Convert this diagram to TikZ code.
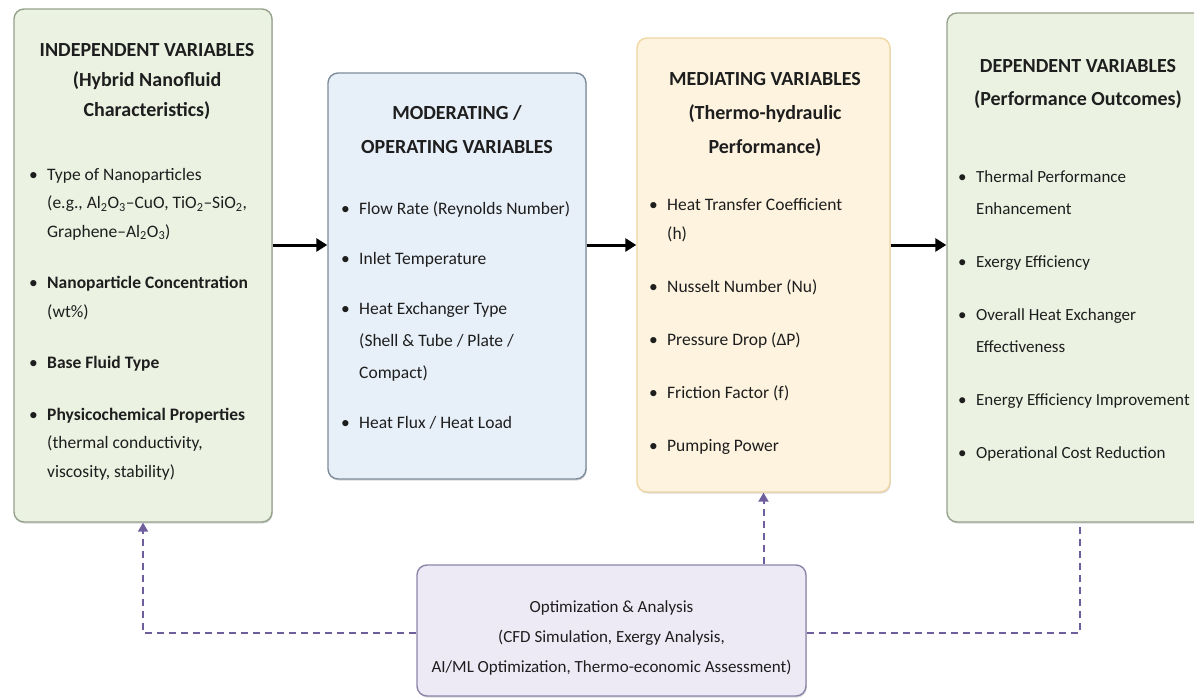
\documentclass[tikz,border=0pt]{standalone}
\usepackage{fontspec}
\setmainfont{Carlito}
\usetikzlibrary{arrows.meta,shadows}
\definecolor{gfill}{HTML}{EBF2E2}
\definecolor{gline}{HTML}{95A28C}
\definecolor{bfill}{HTML}{E7EFF8}
\definecolor{bline}{HTML}{7E8C9C}
\definecolor{yfill}{HTML}{FDF3DF}
\definecolor{yline}{HTML}{F0D7A4}
\definecolor{pfill}{HTML}{EDEAF6}
\definecolor{pline}{HTML}{8C85A8}
\definecolor{dpur}{HTML}{6E5E9E}
\definecolor{txt}{HTML}{1E1E1E}
\newcommand{\bitem}[1]{\par\noindent\hangindent=18pt\hangafter=1\makebox[18pt][l]{\textbullet}#1\par}
\newenvironment{blist}[3]{\begin{minipage}[t]{300pt}\fontsize{#3}{#1}\selectfont\setlength{\parskip}{#2}\setlength{\parindent}{0pt}}{\end{minipage}}
\tikzset{
  box/.style={draw, rounded corners=10pt, line width=1.4pt, inner sep=0pt,
    drop shadow={shadow xshift=0.8pt, shadow yshift=-1.5pt, opacity=0.3}},
  titletext/.style={align=center, inner sep=0pt, text=txt, anchor=north},
  listtext/.style={inner sep=0pt, text=txt, anchor=north west},
  flow/.style={line width=3pt, -{Triangle[length=11pt,width=13pt]}},
  fb/.style={draw=dpur, line width=2pt, dash pattern=on 7pt off 5pt},
  fbtip/.style={-{Triangle[length=9pt,width=10pt]}}
}
\begin{document}
\begin{tikzpicture}[x=1pt,y=-1pt]
\useasboundingbox (0,0) rectangle (1194,698);
\clip (0,0) rectangle (1194,698);
\fill[white] (0,0) rectangle (1194,698);

% boxes
\node[box, fill=gfill, draw=gline, minimum width=258pt, minimum height=513pt] (b1) at (143,265.5) {};
\node[box, fill=bfill, draw=bline, minimum width=258pt, minimum height=406pt] (b2) at (457,276) {};
\node[box, fill=yfill, draw=yline, minimum width=253pt, minimum height=454pt] (b3) at (763.5,265) {};
\node[box, fill=gfill, draw=gline, minimum width=266pt, minimum height=509pt] (b4) at (1080,267.5) {};
\node[box, fill=pfill, draw=pline, minimum width=389pt, minimum height=131pt] (bot) at (611.5,630.5) {};

% titles
\node[titletext, font=\fontsize{20}{30}\selectfont\bfseries] (t1) at (147,43)
  {INDEPENDENT VARIABLES\\(Hybrid Nanofluid\\Characteristics)};
\node[titletext, font=\fontsize{20}{34}\selectfont\bfseries] (t2) at (457,105)
  {MODERATING /\\OPERATING VARIABLES};
\node[titletext, font=\fontsize{20}{34}\selectfont\bfseries] (t3) at (765,72)
  {MEDIATING VARIABLES\\(Thermo-hydraulic\\Performance)};
\node[titletext, font=\fontsize{20}{33}\selectfont\bfseries] (t4) at (1078,59)
  {DEPENDENT VARIABLES\\(Performance Outcomes)};

% lists
\node[listtext] (l1) at (29,168) {\begin{blist}{28.5pt}{23pt}{17.5}%
  \bitem{Type of Nanoparticles\\(e.g., Al\textsubscript{2}O\textsubscript{3}--CuO, TiO\textsubscript{2}--SiO\textsubscript{2},\\Graphene--Al\textsubscript{2}O\textsubscript{3})}
  \bitem{\textbf{Nanoparticle Concentration}\\(wt\%)}
  \bitem{\textbf{Base Fluid Type}}
  \bitem{\textbf{Physicochemical Properties}\\(thermal conductivity,\\viscosity, stability)}%
  \end{blist}};
\node[listtext] (l2) at (341,201) {\begin{blist}{32pt}{18pt}{17.5}%
  \bitem{Flow Rate (Reynolds Number)}
  \bitem{Inlet Temperature}
  \bitem{Heat Exchanger Type\\(Shell \& Tube / Plate /\\Compact)}
  \bitem{Heat Flux / Heat Load}%
  \end{blist}};
\node[listtext] (l3) at (649,198) {\begin{blist}{29pt}{24pt}{17.5}%
  \bitem{Heat Transfer Coefficient\\(h)}
  \bitem{Nusselt Number (Nu)}
  \bitem{Pressure Drop (ΔP)}
  \bitem{Friction Factor (f)}
  \bitem{Pumping Power}%
  \end{blist}};
\node[listtext] (l4) at (958,170) {\begin{blist}{32pt}{21pt}{17}%
  \bitem{Thermal Performance\\Enhancement}
  \bitem{Exergy Efficiency}
  \bitem{Overall Heat Exchanger\\Effectiveness}
  \bitem{Energy Efficiency Improvement}
  \bitem{Operational Cost Reduction}%
  \end{blist}};

% bottom text
\node[align=center, inner sep=0pt, text=txt, font=\fontsize{17}{30}\selectfont] (bt) at (611.5,638)
  {Optimization \& Analysis\\(CFD Simulation, Exergy Analysis,\\AI/ML Optimization, Thermo-economic Assessment)};

% main flow arrows
\coordinate (ay) at (0,245);
\draw[flow] (b1.east |- ay) -- (b2.west |- ay);
\draw[flow] (b2.east |- ay) -- (b3.west |- ay);
\draw[flow] (b3.east |- ay) -- (b4.west |- ay);

% feedback dashed lines
\coordinate (dy) at (0,633);
\draw[fb, fbtip] (bot.west |- dy) -| (b1.south);
\draw[fb, fbtip] (bot.north -| b3.south) -- (b3.south);
\draw[fb] (bot.east |- dy) -| (b4.south);
\end{tikzpicture}
\end{document}
